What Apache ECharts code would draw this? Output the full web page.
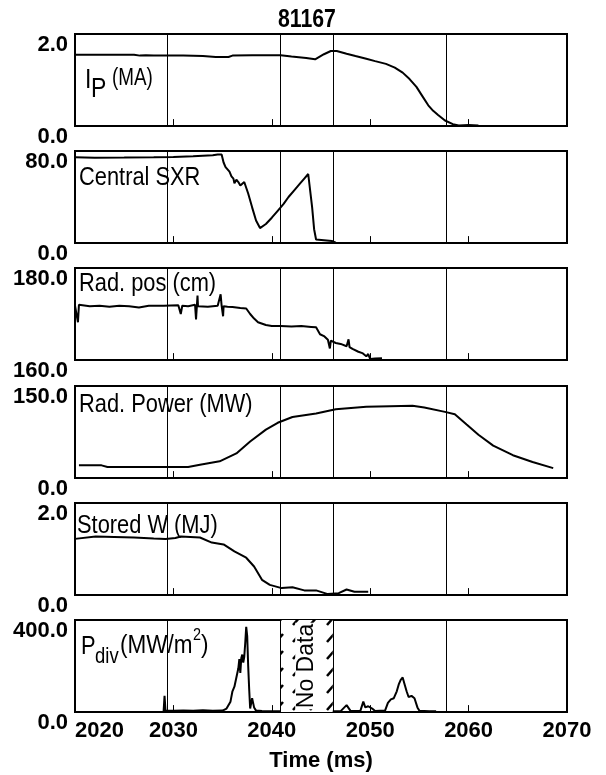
<!DOCTYPE html>
<html>
<head>
<meta charset="utf-8">
<script src="https://cdn.jsdelivr.net/npm/echarts@6/dist/echarts.min.js"></script>
<style>
html, body { margin: 0; padding: 0; background: #fff; }
#main { width: 606px; height: 775px; }
</style>
</head>
<body>
<div id="main"></div>
<script>
// shot + time axis
const shotNo = '81167'
const timeMin = 2020
const timeMax = 2070
const tickTimes = [2030, 2040, 2050, 2060]
const markTimes = [2029.4, 2040.9, 2046.2, 2057.7]
const noDataRange = [2040.9, 2046.2]

// traces as [time (ms), value]
const ipData = [[2020,1.55],[2022,1.55],[2024,1.55],[2026,1.55],[2026.6,1.53],[2027.2,1.54],[2028,1.53],[2029.4,1.53],[2031,1.53],[2033,1.52],[2034.3,1.50],[2035.6,1.50],[2036,1.53],[2038,1.54],[2040.9,1.54],[2042,1.51],[2043.5,1.48],[2044.4,1.45],[2045.3,1.56],[2046.0,1.63],[2046.6,1.63],[2047.6,1.57],[2048.5,1.52],[2049.6,1.46],[2050.5,1.41],[2051.6,1.35],[2052.5,1.27],[2053.3,1.16],[2054,1.02],[2054.7,0.85],[2055.3,0.65],[2055.9,0.45],[2056.4,0.33],[2056.9,0.24],[2057.6,0.12],[2058.4,0.04],[2059,0.01],[2060,0.02],[2061,0.01]]

const sxrData = [[2020,74.5],[2022,74.2],[2025,74.3],[2028,74.5],[2030,74.8],[2032,75.5],[2034,76.3],[2034.5,77],[2034.9,77],[2035.1,70],[2035.3,66],[2035.5,64],[2035.7,62],[2035.9,58],[2036.1,56],[2036.2,52],[2036.4,55],[2036.6,53],[2036.8,50],[2037,49],[2037.2,53],[2037.4,54],[2037.6,43],[2038,31],[2038.4,19.5],[2038.8,13],[2039.4,16.5],[2040,22],[2040.6,28],[2041.2,34],[2041.7,40],[2042.3,46],[2042.9,52],[2043.3,56],[2043.7,60],[2043.9,59],[2044.1,31],[2044.3,12],[2044.5,3],[2045.3,2.4],[2046.1,1.8],[2046.5,0.3],[2047.5,0],[2048.4,0]]

const radPosData = [[2020,171.8],[2020.2,171.8],[2020.3,168.2],[2020.4,172],[2021.5,171.7],[2022.5,171.8],[2023.5,171.6],[2024.5,171.8],[2025.5,171.7],[2026.5,171.4],[2027.5,171.8],[2029,171.8],[2030.5,171.9],[2030.75,170.0],[2030.9,171.8],[2031.5,171.7],[2032.2,172.0],[2032.3,168.8],[2032.45,174.0],[2032.5,171.7],[2032.6,171.9],[2033.5,171.6],[2034.5,171.8],[2034.8,174.3],[2034.9,171.8],[2035.05,169.5],[2035.1,171.7],[2035.2,172.0],[2035.5,171.6],[2036,171.5],[2036.8,171.3],[2037.4,171.2],[2037.8,170.0],[2038.2,169.0],[2038.6,168.2],[2039.4,167.6],[2040,167.4],[2040.9,167.4],[2042,167.3],[2043,167.4],[2044,167.2],[2044.5,167.1],[2044.9,165.6],[2045.3,165.2],[2045.7,164.4],[2045.9,162.5],[2046,164.2],[2046.5,163.7],[2047,163.5],[2047.6,163.0],[2047.8,164.5],[2047.9,162.8],[2048.2,162.4],[2048.8,161.8],[2049.2,161.5],[2049.6,160.8],[2049.8,161.3],[2050,160.2],[2050.5,160.3],[2051.2,160.4]]

const radPowerData = [[2020.4,20.6],[2022.7,20.6],[2023.3,17.8],[2031.5,17.8],[2032.7,21.7],[2034.7,27.2],[2036.4,40],[2037.8,59.4],[2039.4,78.9],[2040.6,90],[2042.1,99.4],[2044.5,105],[2046.5,112.2],[2049.6,116.1],[2052,117],[2054.3,117.8],[2055.5,115],[2057.6,107.8],[2058.6,103.9],[2059.8,87.2],[2061,70.6],[2062.5,52.8],[2064.5,37.2],[2066.5,26.1],[2068.6,16.1]]

const storedWData = [[2020,1.22],[2022.1,1.27],[2024,1.26],[2026,1.25],[2028,1.23],[2029.2,1.22],[2030.2,1.24],[2030.75,1.27],[2032.7,1.25],[2033.9,1.14],[2035.1,1.10],[2036.2,0.95],[2037.4,0.81],[2038.2,0.62],[2039,0.33],[2039.8,0.22],[2041,0.15],[2042.1,0.17],[2043.3,0.10],[2044.5,0.10],[2045.7,0.02],[2046.8,0.04],[2047.6,0.12],[2048.4,0.07],[2049.8,0.07]]

const pdivData = [[2029.0,0],[2029.1,70],[2029.2,5],[2029.4,8],[2030,5],[2031,7],[2032,5],[2033,8],[2034,5],[2035,6],[2035.4,15],[2035.6,20],[2035.8,45],[2036.0,90],[2036.2,110],[2036.4,150],[2036.6,190],[2036.7,230],[2036.8,170],[2036.9,235],[2037.0,250],[2037.1,215],[2037.2,240],[2037.3,300],[2037.4,370],[2037.5,330],[2037.6,200],[2037.7,100],[2037.8,15],[2038.0,60],[2038.2,20],[2038.4,6],[2038.6,5],[2039.0,4],[2040.0,3],[2040.9,3],[2041.0,null],[2046.2,3],[2047.0,4],[2047.6,30],[2047.8,28],[2048.0,5],[2048.3,4],[2049.0,5],[2049.3,45],[2049.5,20],[2049.8,25],[2050.2,15],[2050.5,4],[2051.0,5],[2051.5,5],[2051.8,40],[2052.1,55],[2052.4,60],[2052.7,90],[2052.9,120],[2053.1,140],[2053.3,150],[2053.5,120],[2053.7,90],[2053.9,65],[2054.2,70],[2054.5,60],[2054.8,20],[2055.0,5],[2056.0,3],[2056.7,3]]

const yMins = [0, 0, 160, 0, 0, 0]
const yMaxs = [2, 80, 180, 150, 2, 400]
const traces = [ipData, sxrData, radPosData, radPowerData, storedWData, pdivData]

const FONT = '"Liberation Sans", Arial, sans-serif'
const gridLeft = 75
const gridWidth = 492
const gridTops = [34, 151, 268, 386, 503, 620]
const gridHeight = 92
const tickFrac = 0.075   // little inward ticks, share of panel height

// hatch for the no data band
const hatch = document.createElement('canvas')
hatch.width = 17
hatch.height = 17
const hc = hatch.getContext('2d')
hc.fillStyle = '#fff'
hc.fillRect(0, 0, 17, 17)
hc.strokeStyle = '#000'
hc.lineWidth = 2.5
hc.beginPath()
hc.moveTo(4, 13)
hc.lineTo(11, 5)
hc.stroke()

const chart = echarts.init(document.getElementById('main'))

let grids = [], xAxes = [], yAxes = [], series = []
traces.forEach((d, i) => {
  const last = i === traces.length - 1
  const span = yMaxs[i] - yMins[i]
  grids.push({
    left: gridLeft, top: gridTops[i], width: gridWidth, height: gridHeight,
    outerBoundsMode: 'none',
    show: true, borderColor: '#000', borderWidth: 2
  })
  xAxes.push({
    type: 'value', gridIndex: i, min: timeMin, max: timeMax, interval: 10,
    axisLine: { show: false },
    axisTick: { show: false },
    splitLine: { show: false },
    axisLabel: { show: false }
  })
  yAxes.push({
    type: 'value', gridIndex: i, min: yMins[i], max: yMaxs[i], interval: span,
    axisLine: { show: false }, axisTick: { show: false }, splitLine: { show: false },
    axisLabel: {
      color: '#000', fontFamily: FONT, fontWeight: 'bold', fontSize: 22, margin: 7,
      verticalAlign: 'top', formatter: v => v.toFixed(1)
    }
  })
  // full-height event lines + short ticks up from the bottom edge
  const lines = markTimes.map(t => ({ xAxis: t }))
    .concat(tickTimes.map(t => [{ coord: [t, yMins[i]] }, { coord: [t, yMins[i] + span * tickFrac] }]))
  const s = {
    type: 'line', xAxisIndex: i, yAxisIndex: i, data: d,
    showSymbol: false, connectNulls: false,
    lineStyle: { color: '#000', width: 2 },
    markLine: {
      silent: true, symbol: ['none', 'none'], label: { show: false },
      lineStyle: { color: '#000', width: 1, type: 'solid' },
      data: lines
    }
  }
  if (last) {
    s.markArea = {
      silent: true,
      itemStyle: { color: { image: hatch, repeat: 'repeat' } },
      label: {
        show: true, position: 'inside', rotate: 90, formatter: 'No Data',
        color: '#000', fontFamily: FONT, fontSize: 23, backgroundColor: '#fff', padding: [0, 1]
      },
      data: [[{ xAxis: noDataRange[0] }, { xAxis: noDataRange[1] }]]
    }
  }
  series.push(s)
})

// time labels + axis name on the bottom panel
xAxes.push({
  type: 'value', gridIndex: traces.length - 1, position: 'bottom', offset: 0,
  min: timeMin, max: timeMax, interval: 10,
  axisLine: { show: false }, axisTick: { show: false }, splitLine: { show: false },
  axisLabel: {
    color: '#000', fontFamily: FONT, fontWeight: 'bold', fontSize: 22, margin: 8,
    showMinLabel: true, showMaxLabel: true, alignMinLabel: 'left',
    formatter: v => String(v)
  },
  name: 'Time (ms)', nameLocation: 'middle', nameGap: 38,
  nameTextStyle: { color: '#000', fontFamily: FONT, fontWeight: 'bold', fontSize: 22 }
})

// panel captions, squeezed to look like a condensed face
const txt = (text, x, y, size, sx, weight) => ({
  type: 'text', x: x, y: y, z: 10, scaleX: sx,
  style: { text: text, fill: '#000', font: (weight || 'normal') + ' ' + size + 'px ' + FONT }
})

chart.setOption({
  animation: false,
  grid: grids,
  xAxis: xAxes,
  yAxis: yAxes,
  series: series,
  graphic: [
    txt(shotNo, 278, 8, 25, 0.85, 'bold'),
    txt('I', 85, 66, 28, 0.82),
    txt('P', 91, 75, 28, 0.82),
    txt('(MA)', 112, 67, 23, 0.82),
    txt('Central SXR', 79, 165, 26, 0.84),
    txt('Rad. pos (cm)', 79, 271, 26, 0.84),
    txt('Rad. Power (MW)', 79, 392, 26, 0.84),
    txt('Stored W (MJ)', 77, 513, 26, 0.84),
    txt('P', 81, 634, 26, 0.84),
    txt('div', 95, 646, 22, 0.84),
    txt('(MW/m', 120, 634, 25, 0.9),
    txt('2', 193, 628, 16, 0.9),
    txt(')', 201, 634, 25, 0.9)
  ]
})
</script>
</body>
</html>
